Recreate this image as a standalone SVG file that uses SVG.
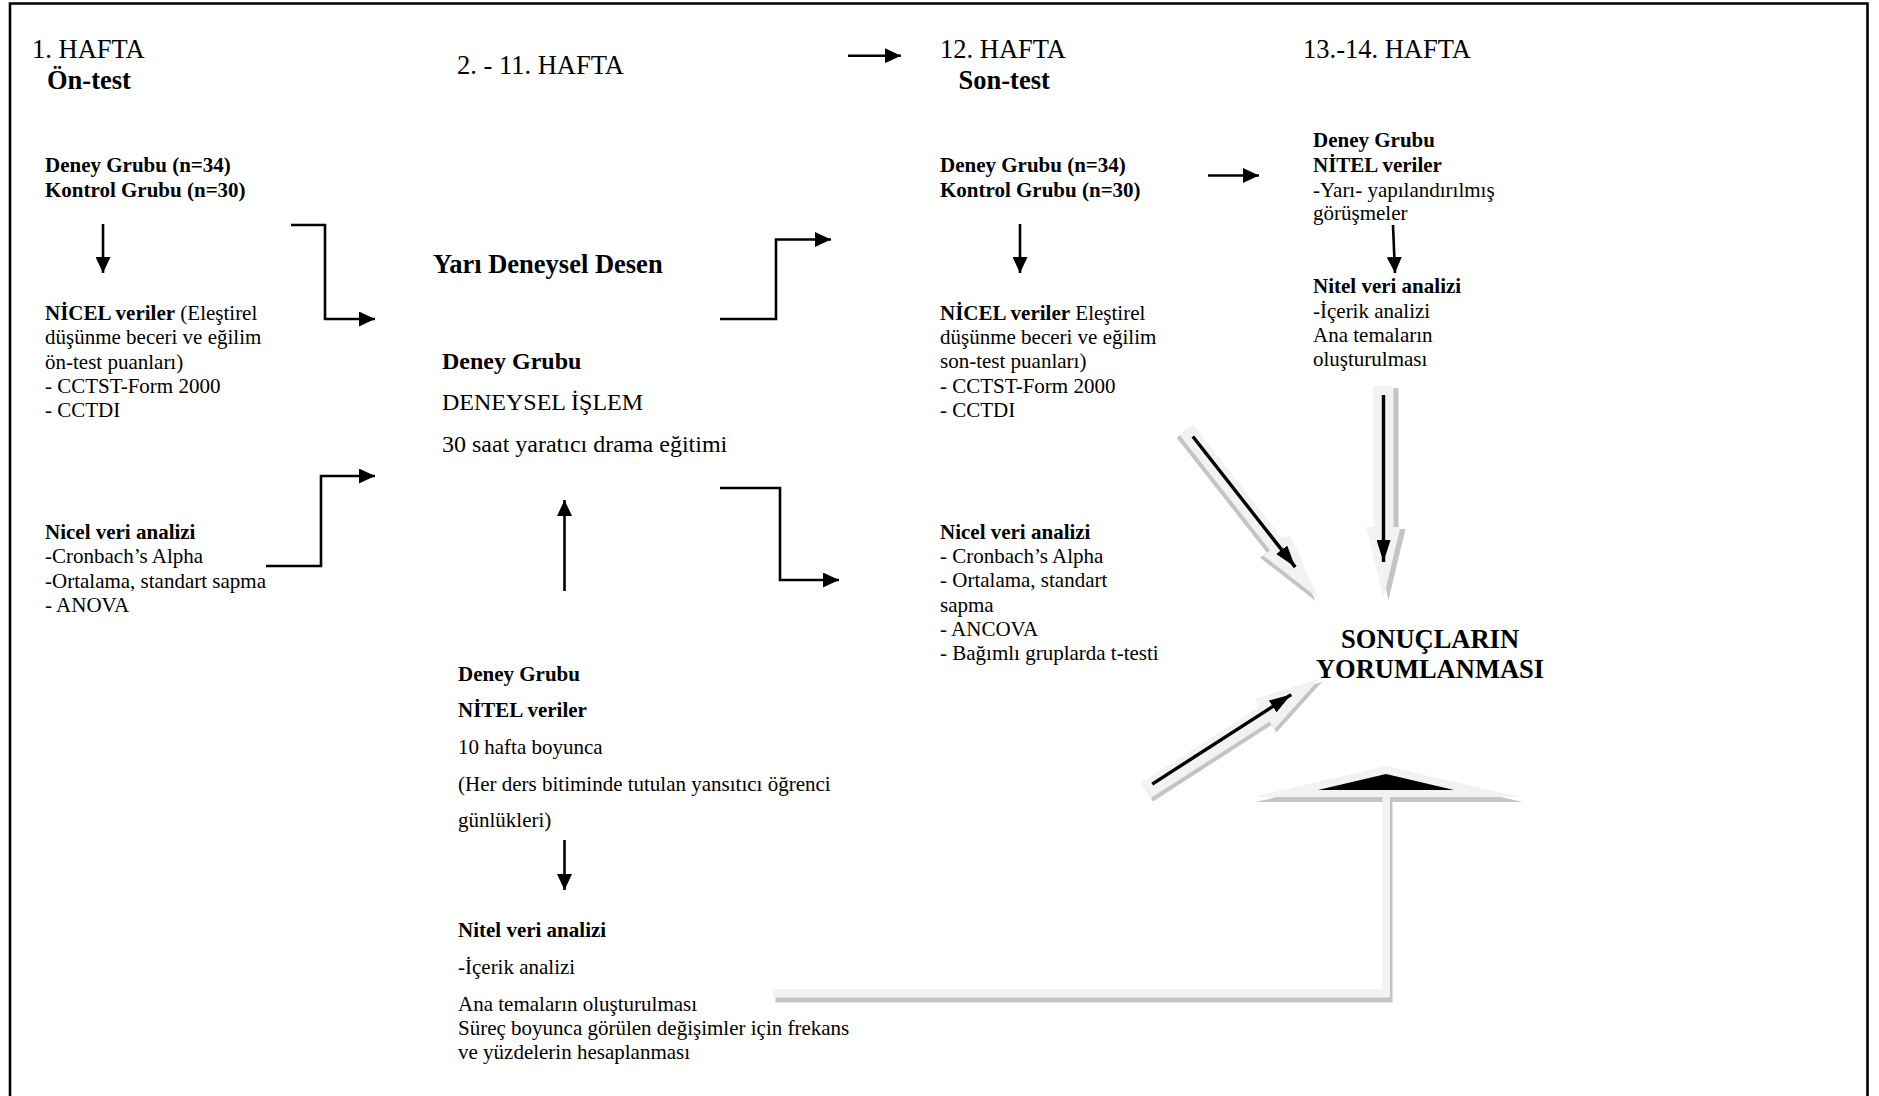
<svg xmlns="http://www.w3.org/2000/svg" width="1879" height="1096" viewBox="0 0 1879 1096">
<style>
text{font-family:"Liberation Serif","Times New Roman",serif;fill:#000}
.h{font-size:26.5px}
.hb{font-size:26.5px;font-weight:bold}
.t{font-size:21px}
.tb{font-size:21px;font-weight:bold}
.b{font-weight:bold}
.m{font-size:24px}
.mb{font-size:24px;font-weight:bold}
.ln{fill:none;stroke:#000;stroke-width:2.6}
.arr{marker-end:url(#ah)}
.sm{fill:none;stroke:#000;stroke-width:3.4;marker-end:url(#ah2)}
.lt{fill:#f2f2f2}
.sh{fill:#c4c4c4}
</style>
<defs>
<marker id="ah" markerUnits="userSpaceOnUse" markerWidth="16" markerHeight="15" refX="16" refY="7.5" orient="auto" viewBox="0 0 16 15"><path d="M0,0 L16,7.5 L0,15 z" fill="#000"/></marker>
<marker id="ah2" markerUnits="userSpaceOnUse" markerWidth="22" markerHeight="14" refX="22" refY="7" orient="auto" viewBox="0 0 22 14"><path d="M0,0 L22,7 L0,14 z" fill="#000"/></marker>
</defs>
<rect width="1879" height="1096" fill="#fff"/>
<path d="M10,1096 V3.5 H1867.5 V1096" fill="none" stroke="#000" stroke-width="2.6"/>

<g id="hafta1">
<text class="h" x="32" y="58">1. HAFTA</text>
<text class="hb" x="47" y="89">Ön-test</text>
</g>
<g id="hafta2-11">
<text class="h" x="457" y="74">2. - 11. HAFTA</text>
</g>
<g id="hafta12">
<text class="h" x="940" y="58">12. HAFTA</text>
<text class="hb" x="958.5" y="89">Son-test</text>
</g>
<g id="hafta13-14">
<text class="h" x="1303" y="58">13.-14. HAFTA</text>
</g>

<g id="ontest-gruplar">
<text class="tb" x="45" y="171.5">Deney Grubu (n=34)</text>
<text class="tb" x="45" y="197">Kontrol Grubu (n=30)</text>
</g>
<g id="ontest-nicel">
<text class="t" x="45" y="319.5"><tspan class="b">NİCEL veriler</tspan> (Eleştirel</text>
<text class="t" x="45" y="344">düşünme beceri ve eğilim</text>
<text class="t" x="45" y="368.5">ön-test puanları)</text>
<text class="t" x="45" y="392.5">- CCTST-Form 2000</text>
<text class="t" x="45" y="416.5">- CCTDI</text>
</g>
<g id="ontest-analiz">
<text class="tb" x="45" y="538.5">Nicel veri analizi</text>
<text class="t" x="45" y="563">-Cronbach’s Alpha</text>
<text class="t" x="45" y="587.5">-Ortalama, standart sapma</text>
<text class="t" x="45" y="611.5">- ANOVA</text>
</g>

<g id="desen">
<text class="hb" x="433" y="273">Yarı Deneysel Desen</text>
</g>
<g id="deneysel-islem">
<text class="mb" x="442" y="369">Deney Grubu</text>
<text class="m" x="442" y="410">DENEYSEL İŞLEM</text>
<text class="m" x="442" y="451.5">30 saat yaratıcı drama eğitimi</text>
</g>
<g id="nitel-gunlukler">
<text class="tb" x="458" y="680.7">Deney Grubu</text>
<text class="tb" x="458" y="717.3">NİTEL veriler</text>
<text class="t" x="458" y="754">10 hafta boyunca</text>
<text class="t" x="458" y="790.7">(Her ders bitiminde tutulan yansıtıcı öğrenci</text>
<text class="t" x="458" y="827.3">günlükleri)</text>
</g>
<g id="nitel-analiz-gunluk">
<text class="tb" x="458" y="936.7">Nitel veri analizi</text>
<text class="t" x="458" y="974">-İçerik analizi</text>
<text class="t" x="458" y="1010.7">Ana temaların oluşturulması</text>
<text class="t" x="458" y="1035">Süreç boyunca görülen değişimler için frekans</text>
<text class="t" x="458" y="1059.3">ve yüzdelerin hesaplanması</text>
</g>

<g id="sontest-gruplar">
<text class="tb" x="940" y="171.5">Deney Grubu (n=34)</text>
<text class="tb" x="940" y="197">Kontrol Grubu (n=30)</text>
</g>
<g id="sontest-nicel">
<text class="t" x="940" y="320"><tspan class="b">NİCEL veriler</tspan> Eleştirel</text>
<text class="t" x="940" y="344">düşünme beceri ve eğilim</text>
<text class="t" x="940" y="368.3">son-test puanları)</text>
<text class="t" x="940" y="392.7">- CCTST-Form 2000</text>
<text class="t" x="940" y="416.5">- CCTDI</text>
</g>
<g id="sontest-analiz">
<text class="tb" x="940" y="539.3">Nicel veri analizi</text>
<text class="t" x="940" y="563.3">- Cronbach’s Alpha</text>
<text class="t" x="940" y="587.3">- Ortalama, standart</text>
<text class="t" x="940" y="611.7">sapma</text>
<text class="t" x="940" y="636">- ANCOVA</text>
<text class="t" x="940" y="660">- Bağımlı gruplarda t-testi</text>
</g>

<g id="gorusmeler">
<text class="tb" x="1313" y="146.7">Deney Grubu</text>
<text class="tb" x="1313" y="171.7">NİTEL veriler</text>
<text class="t" x="1313" y="196.7">-Yarı- yapılandırılmış</text>
<text class="t" x="1313" y="220">görüşmeler</text>
</g>
<g id="gorusme-analiz">
<text class="tb" x="1313" y="293.3">Nitel veri analizi</text>
<text class="t" x="1313" y="318.3">-İçerik analizi</text>
<text class="t" x="1313" y="341.7">Ana temaların</text>
<text class="t" x="1313" y="366">oluşturulması</text>
</g>

<g id="sonuclar">
<text class="hb" x="1430" y="648" text-anchor="middle">SONUÇLARIN</text>
<text class="hb" x="1430" y="677.5" text-anchor="middle">YORUMLANMASI</text>
</g>

<g id="connectors">
<path class="ln arr" d="M848,55.7 H901"/>
<path class="ln arr" d="M103,224 V273"/>
<path class="ln arr" d="M291,225 H325 V319 H375"/>
<path class="ln arr" d="M266,566 H321 V476 H375"/>
<path class="ln arr" d="M720,319 H776 V239.5 H831"/>
<path class="ln arr" d="M720,488 H780 V580 H839"/>
<path class="ln arr" d="M564.5,591 V500"/>
<path class="ln arr" d="M564.5,840 V890"/>
<path class="ln arr" d="M1020,224 V273"/>
<path class="ln arr" d="M1208,175.5 H1259"/>
<path class="ln arr" d="M1393,225 L1395,273"/>

<g transform="translate(1186.5,430) rotate(51.9)">
<polygon class="sh" transform="translate(0,4)" points="0,-8.5 146,-8.5 146,-17 214,0 146,17 146,8.5 0,8.5"/>
<polygon class="lt" points="0,-8.5 146,-8.5 146,-17 214,0 146,17 146,8.5 0,8.5"/>
<path class="sm" d="M9,-1 H175"/>
</g>
<g transform="translate(1383.5,386) rotate(90)">
<polygon class="sh" transform="translate(2,-5)" points="0,-10 141,-10 141,-17 212,0 141,17 141,10 0,10"/>
<polygon class="lt" points="0,-10 141,-10 141,-17 212,0 141,17 141,10 0,10"/>
<path class="sm" d="M9,0 H176"/>
</g>
<g transform="translate(1146,790.5) rotate(-32.8)">
<polygon class="sh" transform="translate(0,4)" points="0,-9 141,-9 141,-18 207,0 141,18 141,9 0,9"/>
<polygon class="lt" points="0,-9 141,-9 141,-18 207,0 141,18 141,9 0,9"/>
<path class="sm" d="M8.7,-2 H174"/>
</g>
<g id="bottom-arrow">
<polygon class="sh" transform="translate(2.5,5)" points="773,989 1382.5,989 1382.5,797 1390,797 1390,997.5 773,997.5"/>
<polygon class="sh" transform="translate(2.5,5)" points="1253,797 1386,766 1520,797"/>
<polygon class="lt" points="773,989 1382.5,989 1382.5,797 1390,797 1390,997.5 773,997.5"/>
<polygon class="lt" points="1253,797 1386,766 1520,797"/>
<polygon fill="#000" points="1318,790 1386,774 1454,790"/>
</g>
</g>
</svg>
